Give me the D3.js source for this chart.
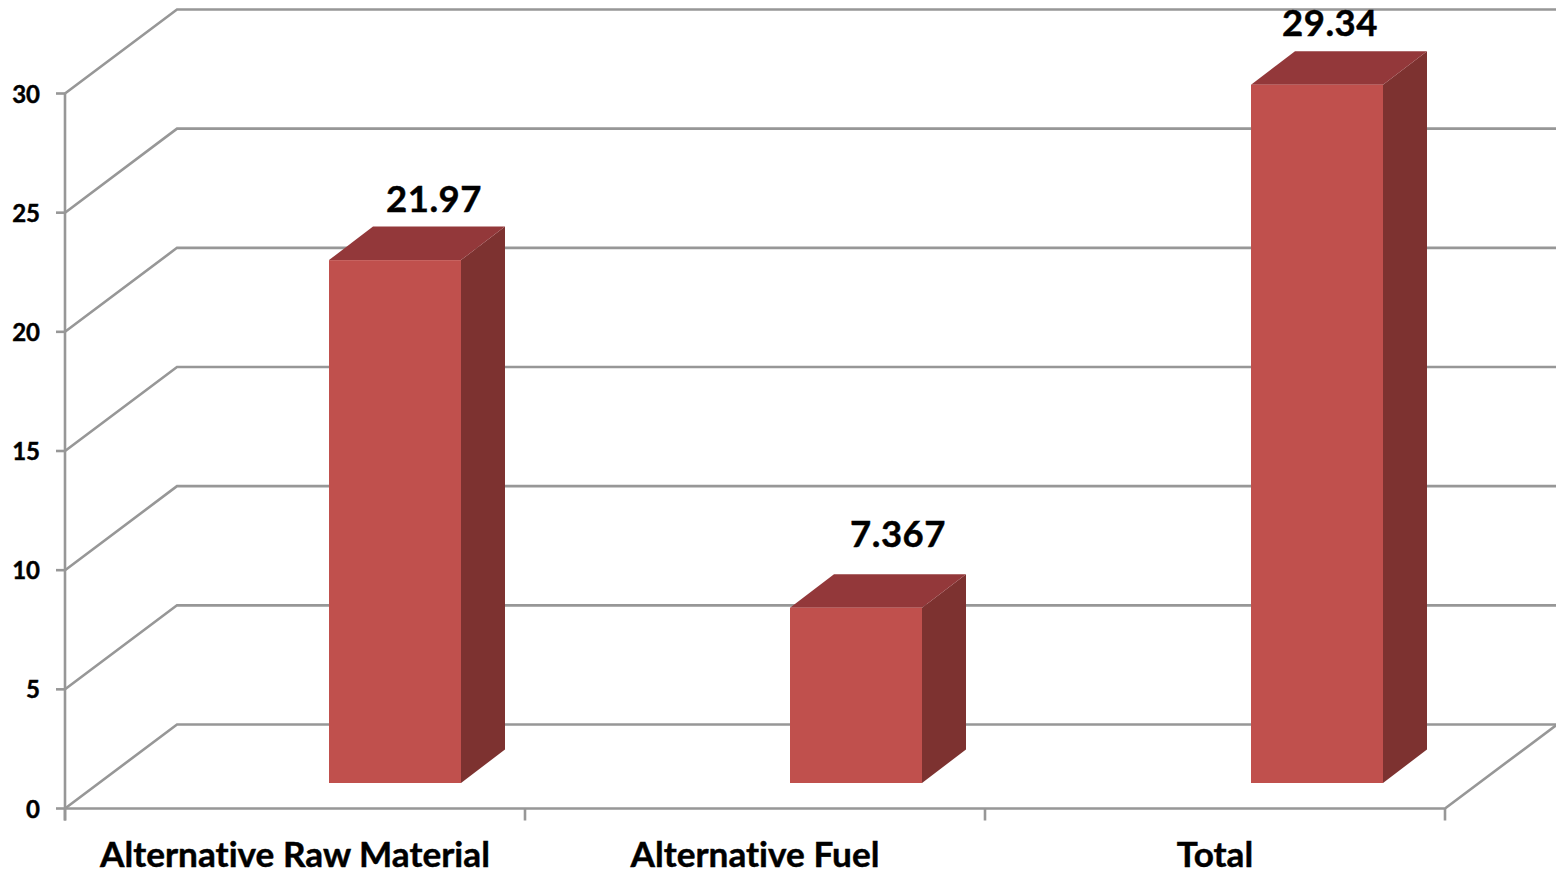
<!DOCTYPE html>
<html>
<head>
<meta charset="utf-8">
<script src="https://cdn.jsdelivr.net/npm/d3@7/dist/d3.min.js"></script>
<style>
html,body{margin:0;padding:0;background:#fff;overflow:hidden}
svg{display:block}
text{font-family:Lato,"Open Sans",sans-serif;font-weight:700;fill:#000;stroke:#000;stroke-width:0.45px;font-variant-ligatures:none}
</style>
</head>
<body>
<svg id="chart" width="1556" height="873"></svg>
<script>
// Chart content
const categories = ["Alternative Raw Material", "Alternative Fuel", "Total"];
const seriesValues = [21.97, 7.367, 29.34];
const valueLabels = ["21.97", "7.367", "29.34"];
const yTicks = [0, 5, 10, 15, 20, 25, 30];

// Oblique 3D projection of the plot box
const wall = {dx: 112, dy: -84};
const barDepth = {dx: 44, dy: -33.5};

// Hand-placed data labels, relative to the bar centre and its back top edge
const labelShift = [{dx: 39, dy: -14.5}, {dx: 42, dy: -27}, {dx: 13, dy: -15}];

const svg = d3.select("#chart");
const x = d3.scaleBand().domain(categories).range([65, 1445]).padding(0);
const barX = d3.scalePoint().domain(categories).range([395, 1317]);
const y = d3.scaleLinear().domain([0, 30]).range([808.5, 93.5]);
// Bars stand on the floor, set back from its front edge
const barY = d3.scaleLinear().domain([0, 30]).range([783, 69]);
const barW = 132;
const gridColor = "#979797";

const grid = svg.append("g").attr("fill", "none").attr("stroke", gridColor).attr("stroke-width", 2.6);

// Gridlines run up the side wall and along the back wall
grid.selectAll("path.grid").data(yTicks).join("path").attr("class", "grid")
  .attr("d", v => {
    const p = d3.path();
    p.moveTo(x.range()[0], y(v));
    p.lineTo(x.range()[0] + wall.dx, y(v) + wall.dy);
    p.lineTo(x.range()[1] + wall.dx, y(v) + wall.dy);
    return p.toString();
  });

// Floor front edge and right edge
grid.append("path").attr("d", () => {
  const p = d3.path();
  p.moveTo(x.range()[0], y(0));
  p.lineTo(x.range()[1], y(0));
  p.lineTo(x.range()[1] + wall.dx, y(0) + wall.dy);
  return p.toString();
});

// Value axis with ticks on the left
grid.append("line").attr("x1", 65).attr("x2", 65).attr("y1", y(30)).attr("y2", y(0) + 12);
grid.selectAll("line.ytick").data(yTicks).join("line").attr("class", "ytick")
  .attr("x1", 56).attr("x2", 65).attr("y1", d => y(d)).attr("y2", d => y(d));

// Category separators below the floor
const sepX = categories.map(c => x(c)).concat(x.range()[1]);
grid.selectAll("line.xtick").data(sepX).join("line").attr("class", "xtick")
  .attr("x1", d => d).attr("x2", d => d).attr("y1", y(0)).attr("y2", y(0) + 12);

svg.selectAll("text.ylab").data(yTicks).join("text").attr("class", "ylab")
  .attr("x", 40).attr("y", d => y(d)).attr("dy", "0.38em")
  .attr("text-anchor", "end").attr("font-size", 24).text(d => d);

svg.selectAll("text.xlab").data(categories).join("text").attr("class", "xlab")
  .attr("x", d => x(d) + x.bandwidth() / 2).attr("y", 867)
  .attr("text-anchor", "middle").attr("font-size", 35.2).text(d => d);

// Bars: front face, top face and side face
const bars = svg.selectAll("g.bar")
  .data(categories.map((c, i) => ({c, v: seriesValues[i], label: valueLabels[i], shift: labelShift[i]})))
  .join("g").attr("class", "bar");
const left = d => barX(d.c) - barW / 2;
const topY = d => barY(d.v);
const botY = barY(0);

bars.append("polygon").attr("fill", "#7D3230")
  .attr("points", d => {
    const r = left(d) + barW;
    return [[r, botY], [r, topY(d)], [r + barDepth.dx, topY(d) + barDepth.dy], [r + barDepth.dx, botY + barDepth.dy]].join(" ");
  });
bars.append("polygon").attr("fill", "#93383A")
  .attr("points", d => {
    const l = left(d), r = l + barW, t = topY(d);
    return [[l, t], [r, t], [r + barDepth.dx, t + barDepth.dy], [l + barDepth.dx, t + barDepth.dy]].join(" ");
  });
bars.append("rect").attr("fill", "#C0504D")
  .attr("x", left).attr("y", topY).attr("width", barW).attr("height", d => botY - topY(d));

bars.append("text")
  .attr("x", d => barX(d.c) + d.shift.dx)
  .attr("y", d => topY(d) + barDepth.dy + d.shift.dy)
  .attr("text-anchor", "middle").attr("font-size", 36.5).attr("letter-spacing", 0.5).text(d => d.label);
</script>
</body>
</html>
